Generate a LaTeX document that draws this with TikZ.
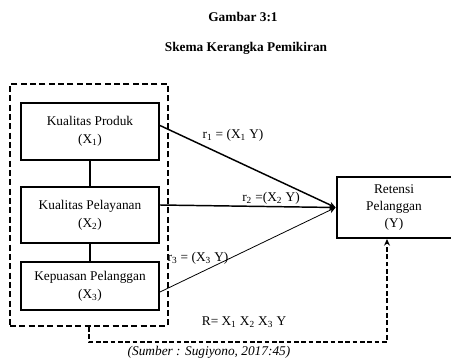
\documentclass[tikz,border=0pt]{standalone}
\usepackage{fontspec}
\setmainfont{Liberation Serif}
\usetikzlibrary{arrows.meta,calc}
\begin{document}
\begin{tikzpicture}[x=0.75pt,y=0.75pt,yscale=-1,xscale=1,
    varbox/.style={draw,line width=1.5pt,align=center,inner sep=0.75pt,minimum width=103.5pt,font=\fontsize{10}{13.5}\selectfont},
    corr/.style={-{Stealth[length=5pt,width=4.5pt]},line width=1.1pt},
    lbl/.style={inner sep=0.75pt,font=\fontsize{10}{12}\selectfont}]
    \useasboundingbox (0,0) rectangle (451,360);
    
    % Title
    \node [lbl,font=\bfseries\fontsize{10}{12}\selectfont] (title) at (243,17) {Gambar 3:1};
    \node [lbl,font=\bfseries\fontsize{10}{12}\selectfont] (subtitle) at (246,48) {Skema Kerangka Pemikiran};
    
    %Shape: Rectangle dashed frame
    \node [draw,line width=1.6pt,dash pattern={on 4.5pt off 2.5pt},minimum width=118.5pt,minimum height=181.5pt] (frame) at (89,205) {};
    
    % Variable boxes
    \node [varbox,minimum height=42.75pt] (x1) at (90,131.5) {Kualitas Produk\\(X\textsubscript{1})};
    \node [varbox,minimum height=42pt] (x2) at (90,215) {Kualitas Pelayanan\\(X\textsubscript{2})};
    \node [varbox,minimum height=36pt] (x3) at (90,286) {Kepuasan Pelanggan\\(X\textsubscript{3})};
    \node [varbox,minimum width=92pt,minimum height=45.75pt,font=\fontsize{10}{12.4}\selectfont] (ret) at (398,207.5) {\hspace*{-6pt}Retensi\\\hspace*{-6pt}Pelanggan\\\hspace*{-6pt}(Y)};
    
    %Straight Lines between boxes
    \draw [line width=1pt] (x1.south) -- (x2.north);
    \draw [line width=1pt] (x2.south) -- (x3.north);
    
    %Straight Lines correlations
    \draw [corr] ($(x1.east)+(0,-6)$) -- (ret.west);
    \draw [corr] ($(x2.east)+(0,-10)$) -- (ret.west);
    \draw [corr,line width=0.6pt] ($(x3.east)+(0,6)$) -- (ret.west);
    
    %Dashed feedback line
    \draw [line width=1.2pt,dash pattern={on 3.5pt off 2pt},-{Stealth[length=5pt,width=4.5pt]}] (frame.south) -- ++(0,15) -| ($(ret.south)+(-11,0)$);
    
    % Text Node
    \node [lbl] (r1) at (233,135) {r\textsubscript{1} = (X\textsubscript{1} Y)};
    % Text Node
    \node [lbl] (r2) at (271,198) {r\textsubscript{2} =(X\textsubscript{2} Y)};
    % Text Node
    \node [lbl] (r3) at (198,258) {r\textsubscript{3} = (X\textsubscript{3} Y)};
    % Text Node
    \node [lbl] (rall) at (244,322) {R= X\textsubscript{1} X\textsubscript{2} X\textsubscript{3} Y};
    % Text Node
    \node [lbl,font=\itshape\fontsize{10}{12}\selectfont] (src) at (209,352) {(Sumber : Sugiyono, 2017:45)};
\end{tikzpicture}
\end{document}
